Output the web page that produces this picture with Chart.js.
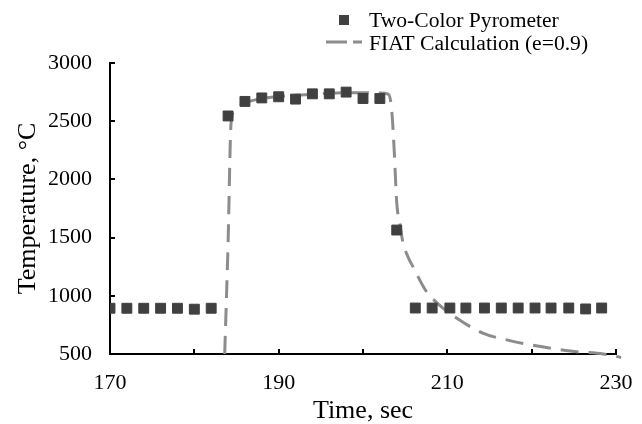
<!DOCTYPE html>
<html>
<head>
<meta charset="utf-8">
<script src="https://cdn.jsdelivr.net/npm/chart.js@4"></script>
<style>
  html, body { margin: 0; padding: 0; background: #fff; }
  #wrap { width: 642px; height: 424px; }
</style>
</head>
<body>
<div id="wrap"><canvas id="myChart" width="642" height="424"></canvas></div>
<script>
// pyrometer readings
var pyroTime = [170, 172, 174, 176, 178, 180, 182,
  184, 186, 188, 190, 192, 194, 196, 198, 200, 202,
  204,
  206.2, 208.2, 210.3, 212.2, 214.4, 216.4, 218.4, 220.4, 222.3, 224.4, 226.4, 228.3];
var pyroTemp = [893, 893, 893, 893, 893, 885, 893,
  2545, 2670, 2700, 2710, 2690, 2735, 2735, 2750, 2695, 2695,
  1565,
  895, 895, 895, 895, 895, 895, 895, 895, 895, 895, 887, 895];

// FIAT calculation curve
var fiatTime = [183.6, 184.0, 184.35, 184.7, 185.5, 186.5, 188, 190, 192, 194, 196, 198, 200, 202,
  203.0, 203.4, 203.7, 204.0, 204.4, 204.7, 205.3, 206, 207.4, 209, 211.5, 214.2, 217.4, 220.5, 224.6, 228.5, 229.7, 230.6];
var fiatTemp = [500, 1450, 2480, 2580, 2640, 2670, 2695, 2712, 2722, 2732, 2740, 2745, 2745, 2742,
  2732, 2600, 2250, 1800, 1610, 1470, 1340, 1240, 1050, 925, 790, 680, 615, 570, 525, 500, 485, 470];

var xTicks = [170, 190, 210, 230];
var seriesNames = ["Two-Color Pyrometer", "FIAT Calculation (e=0.9)"];

var markColor = "#404040";
var lineColor = "#8c8c8c";
var serif = "'Liberation Serif', 'Times New Roman', serif";

function pairs(xs, ys) {
  return xs.map(function (x, i) { return { x: x, y: ys[i] }; });
}

// legend drawn above the plot, two stacked rows like the original
var legendPlugin = {
  id: "stackLegend",
  afterDraw: function (chart) {
    var ctx = chart.ctx;
    ctx.save();
    ctx.font = "21.6px " + serif;
    ctx.textBaseline = "alphabetic";
    ctx.fillStyle = markColor;
    ctx.fillRect(339, 15, 10, 10);
    ctx.fillStyle = "#000";
    ctx.fillText(seriesNames[0], 369, 27);
    ctx.strokeStyle = lineColor;
    ctx.lineWidth = 3;
    ctx.setLineDash([21, 6]);
    ctx.beginPath();
    ctx.moveTo(326, 42);
    ctx.lineTo(362, 42);
    ctx.stroke();
    ctx.setLineDash([]);
    ctx.fillText(seriesNames[1], 369, 50);
    ctx.restore();
  }
};

renderChart();
function renderChart() {
  var existingChart = Chart.getChart("myChart");
  if (existingChart) {
    existingChart.destroy();
  }
  new Chart("myChart", {
    type: "scatter",
    data: {
      datasets: [{
        label: seriesNames[1],
        type: "line",
        data: pairs(fiatTime, fiatTemp),
        borderColor: lineColor,
        borderWidth: 3,
        borderDash: [18, 10],
        pointRadius: 0,
        fill: false,
        cubicInterpolationMode: "monotone",
        clip: false,
        order: 2
      }, {
        label: seriesNames[0],
        data: pairs(pyroTime, pyroTemp),
        pointStyle: "rect",
        pointRadius: 7,
        backgroundColor: markColor,
        borderColor: markColor,
        borderWidth: 1,
        showLine: false,
        order: 1
      }]
    },
    options: {
      responsive: false,
      animation: false,
      layout: { padding: { top: 63, left: 0, right: 26, bottom: 0 } },
      plugins: {
        legend: { display: false },
        tooltip: { enabled: false }
      },
      scales: {
        x: {
          type: "linear",
          min: 170,
          max: 230,
          afterFit: function (scale) {
            scale.height = 70;
            scale.paddingLeft = 0;
            scale.paddingRight = 0;
          },
          border: { color: "#000", width: 2 },
          grid: { drawOnChartArea: false, color: "#000", lineWidth: 2, tickLength: -5 },
          ticks: {
            stepSize: 10,
            color: "#000",
            padding: 21,
            maxRotation: 0,
            font: { family: serif, size: 22 },
            callback: function (v) { return xTicks.indexOf(v) >= 0 ? String(v) : ""; }
          },
          title: {
            display: true,
            text: "Time, sec",
            color: "#000",
            font: { family: serif, size: 26, lineHeight: 1 },
            padding: { top: 0, bottom: 0 }
          }
        },
        y: {
          min: 500,
          max: 3000,
          afterFit: function (scale) { scale.width = 110; },
          border: { color: "#000", width: 2 },
          grid: { drawOnChartArea: false, color: "#000", lineWidth: 2, tickLength: -5 },
          ticks: {
            stepSize: 500,
            color: "#000",
            padding: 23,
            font: { family: serif, size: 22 },
            callback: function (v) { return String(v); }
          },
          title: {
            display: true,
            text: "Temperature, °C",
            color: "#000",
            font: { family: serif, size: 26, lineHeight: 1 },
            padding: { top: 15, bottom: 0 }
          }
        }
      }
    },
    plugins: [legendPlugin]
  });
}
</script>
</body>
</html>
